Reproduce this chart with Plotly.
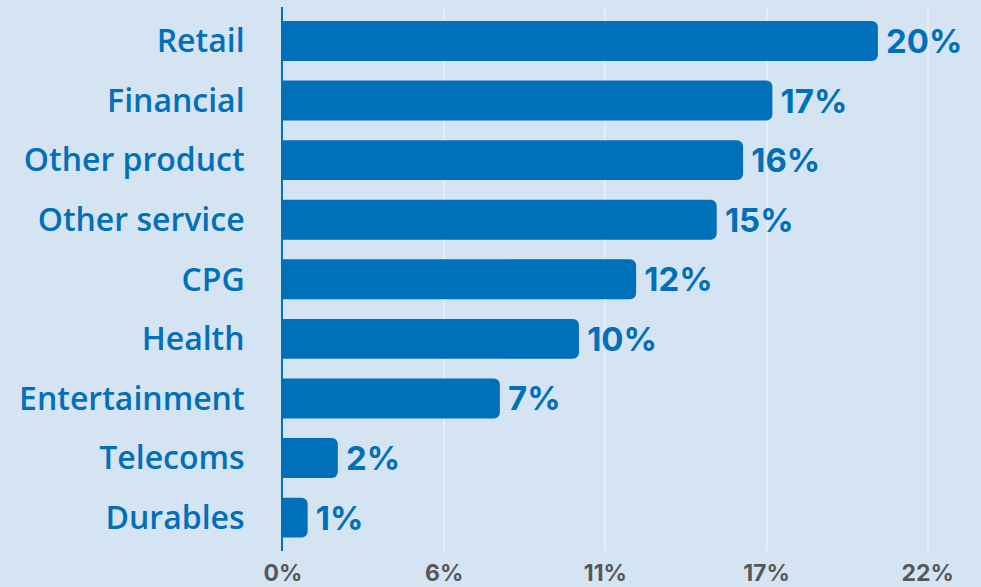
import plotly.graph_objects as go

# Share of spend by sector (%), top to bottom
sectors = ["Retail", "Financial", "Other product", "Other service", "CPG",
           "Health", "Entertainment", "Telecoms", "Durables"]
shares = [20.3, 16.7, 15.7, 14.8, 12.05, 10.1, 7.4, 1.87, 0.84]

# Axis ticks
tick_values = [0, 5.5, 11, 16.5, 22]
tick_labels = ["0%", "6%", "11%", "17%", "22%"]

BLUE = "#0070BA"
BG = "#D5E4F2"
FONT = "Inter"

fig = go.Figure(
    go.Bar(
        x=shares,
        y=sectors,
        orientation="h",
        marker=dict(color=BLUE, line=dict(width=0)),
        texttemplate="\u2009%{x:.0f}%",
        textposition="outside",
        cliponaxis=False,
        textfont=dict(family=FONT, size=33, color=BLUE, weight=700),
        hoverinfo="skip",
    )
)

fig.update_layout(
    width=981,
    height=587,
    margin=dict(l=283, r=24, t=7, b=36),
    paper_bgcolor=BG,
    plot_bgcolor=BG,
    bargap=0.33,
    barcornerradius=6,
    showlegend=False,
    xaxis=dict(
        range=[0, 23],
        tickvals=tick_values,
        ticktext=tick_labels,
        showgrid=True,
        gridcolor="#E5EEF8",
        gridwidth=2,
        zeroline=False,
        showline=False,
        ticks="",
        automargin=False,
        ticklabelstandoff=6,
        tickfont=dict(family=FONT, size=23, color="#575757", weight=700),
    ),
    yaxis=dict(
        categoryorder="array",
        categoryarray=sectors,
        range=[8.56, -0.57],
        showgrid=False,
        zeroline=False,
        showline=True,
        linecolor=BLUE,
        linewidth=2,
        ticks="",
        automargin=False,
        ticklabelstandoff=30,
        tickfont=dict(family="Open Sans", size=32, color=BLUE, weight=600),
    ),
)

fig.write_html("out.html")
